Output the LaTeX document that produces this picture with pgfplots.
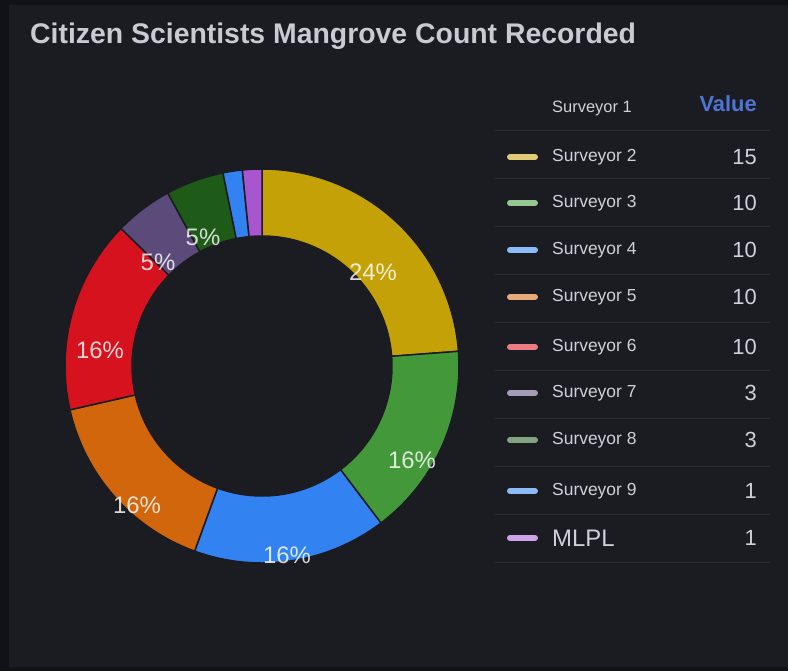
\documentclass[border=0pt]{standalone}
\usepackage{pgfplots}
\pgfplotsset{compat=1.18}
\usepackage{fontspec}
\setmainfont{Liberation Sans}
\definecolor{outerbg}{HTML}{111217}
\definecolor{panelbg}{HTML}{1B1C21}
\definecolor{titlec}{HTML}{C9CAD2}
\definecolor{textc}{HTML}{D0D0DA}
\definecolor{linec}{HTML}{2B2C32}
\definecolor{valc}{HTML}{4F74D6}
\definecolor{c1}{HTML}{C4A106}
\definecolor{c2}{HTML}{43983A}
\definecolor{c3}{HTML}{3382F2}
\definecolor{c4}{HTML}{D2660C}
\definecolor{c5}{HTML}{D6121E}
\definecolor{c6}{HTML}{5B4B7A}
\definecolor{c7}{HTML}{1E5A18}
\definecolor{c8}{HTML}{3382F2}
\definecolor{c9}{HTML}{A855D0}
% total of all values
\def\total{63}
% slice: colour, cumulative start, value
\newcommand{\slice}[3]{%
  \addplot[fill=#1, draw=panelbg, line width=1.5pt, samples=181, domain=0:3, variable=\t]
  ({262 + (197 - 67*min(max(\t-1,0),1))*cos(90 - 360/\total*(#2 + min(\t,1,3-\t)*#3))},
   {366 - (197 - 67*min(max(\t-1,0),1))*sin(90 - 360/\total*(#2 + min(\t,1,3-\t)*#3))}) -- cycle;
}
% legend row: y, colour, name, value, font size
\newcommand{\legrow}[5]{%
  \draw[#2!55!white, line width=6pt, line cap=round] (axis cs:510,#1) -- (axis cs:535,#1);
  \node[anchor=west, text=textc, font=\fontsize{#5}{#5}\selectfont, inner sep=0pt] at (axis cs:552,#1) {#3};
  \node[anchor=east, text=textc, font=\fontsize{22}{22}\selectfont, inner sep=0pt] at (axis cs:757,#1) {#4};
}
\begin{document}
\begin{tikzpicture}
\begin{axis}[
  width=788bp, height=671bp, scale only axis,
  xmin=0, xmax=788, ymin=0, ymax=671, y dir=reverse,
  axis lines=none, clip=false]
\fill[outerbg] (axis cs:0,0) rectangle (axis cs:788,671);
\fill[panelbg] (axis cs:9,5) rectangle (axis cs:788,667);
\node[anchor=west, text=titlec, font=\bfseries\fontsize{28.5}{32}\selectfont, inner sep=0pt] at (axis cs:30,36) {Citizen Scientists Mangrove Count Recorded};
% donut slices (values 15,10,10,10,10,3,3,1,1)
\slice{c1}{0}{15}
\slice{c2}{15}{10}
\slice{c3}{25}{10}
\slice{c4}{35}{10}
\slice{c5}{45}{10}
\slice{c6}{55}{3}
\slice{c7}{58}{3}
\slice{c8}{61}{1}
\slice{c9}{62}{1}
% percentage labels
\addplot[only marks, mark=none, nodes near coords, point meta=explicit symbolic,
  nodes near coords style={anchor=center, text=white, text opacity=0.82, font=\fontsize{24}{24}\selectfont}]
  table[meta=label] {
x y label
373 272 24\%
412 460 16\%
287 555 16\%
137 505 16\%
100 350 16\%
158 262 5\%
203 237 5\%
};
% legend table
\pgfplotsinvokeforeach{130,178,226,274,322,370,418,466,514,562}{
  \draw[linec, line width=1pt] (axis cs:495,#1) -- (axis cs:770,#1);
}
\node[anchor=west, text=textc, font=\fontsize{16.5}{16.5}\selectfont, inner sep=0pt] at (axis cs:552,108) {Surveyor 1};
\node[anchor=east, text=valc, font=\bfseries\fontsize{22}{22}\selectfont, inner sep=0pt] at (axis cs:757,104) {Value};
\legrow{157}{c1}{Surveyor 2}{15}{17.5}
\legrow{203}{c2}{Surveyor 3}{10}{17.5}
\legrow{250}{c3}{Surveyor 4}{10}{17.5}
\legrow{297}{c4}{Surveyor 5}{10}{17.5}
\legrow{347}{c5}{Surveyor 6}{10}{17.5}
\legrow{393}{c6}{Surveyor 7}{3}{17.5}
\legrow{440}{c7}{Surveyor 8}{3}{17.5}
\legrow{491}{c8}{Surveyor 9}{1}{17.5}
\legrow{538}{c9}{MLPL}{1}{24}
\end{axis}
\end{tikzpicture}
\end{document}
